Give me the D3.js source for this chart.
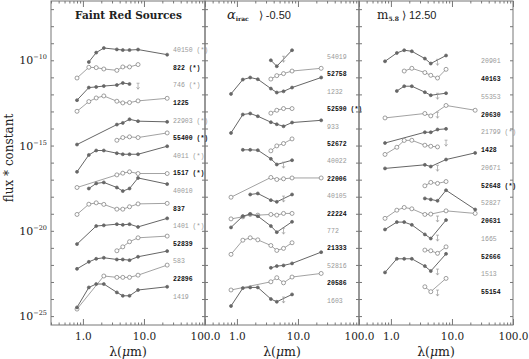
<!DOCTYPE html>
<html>
<head>
<meta charset="utf-8">
<style>
    body { margin: 0; background: #fff; }
    svg { display: block; font-family: 'DejaVu Serif', serif; }
    .tick line { stroke: #777; }
    .domain { display: none; }
    .xlab .tick text { font-size: 10.5px; fill: #222; font-family: 'DejaVu Serif', serif; }
    .lab { font-family: 'Liberation Mono', monospace; font-size: 6.5px; }
</style>
</head>
<body>
<svg width="529" height="359"></svg>
<script src="https://d3js.org/d3.v7.min.js"></script>
<script>
// bands: I, J, H, K, IRAC 3.6/4.5/5.8/8.0, MIPS 24 (micron)
const bands = [0.8, 1.25, 1.65, 2.2, 3.6, 4.5, 5.8, 8.0, 24];

// log10(flux * constant), null = no detection; lim = [band, log10 upper limit]
const faintRed = [
    { id: "40150 (*)", open: false, f: [null, -10.10, -9.55, -9.28, -9.36, -9.40, -9.40, -9.37, -9.67] },
    { id: "822 (*)", open: true, f: [-11.04, -10.41, -10.43, -10.51, -10.59, -10.39, -10.39, -10.25, null] },
    { id: "746 (*)", open: false, f: [-12.34, -11.60, -11.56, -11.51, -11.45, -11.33, -11.39, null, null], lim: [8.0, -11.52] },
    { id: "1225", open: true, f: [-12.99, -12.42, -12.21, -12.09, -12.40, -12.50, -12.48, -12.38, -12.23] },
    { id: "22903 (*)", open: false, f: [-14.94, null, null, null, -13.77, -13.67, -13.46, -13.57, -13.61] },
    { id: "55400 (*)", open: true, f: [null, null, null, null, -14.69, -14.53, -14.49, -14.53, -14.26] },
    { id: "4011 (*)", open: false, f: [-16.54, -15.55, -15.29, -15.29, -15.45, -15.51, -15.51, -15.51, -15.04] },
    { id: "1517 (*)", open: true, f: [-17.46, null, null, null, -16.72, -16.62, -16.54, -16.64, -16.64] },
    { id: "40010", open: false, f: [null, -17.52, -17.22, -17.16, -17.46, -17.67, -17.52, -16.90, -17.26] },
    { id: "837", open: true, f: [-19.04, -18.44, -18.36, -18.45, -18.73, -18.73, -18.59, -18.42, -18.39] },
    { id: "1401 (*)", open: false, f: [-20.78, null, -19.72, -19.68, -19.61, -19.65, -19.61, -19.77, -19.27] },
    { id: "52839", open: true, f: [null, null, null, null, -21.17, -20.94, -20.64, -20.41, -20.31] },
    { id: "583", open: false, f: [-22.23, -21.82, -21.64, -21.58, -21.68, -21.68, -21.72, -21.52, -21.19] },
    { id: "22896", open: true, f: [-24.59, null, null, -22.65, -22.73, -22.73, -22.73, -22.60, -22.01] },
    { id: "1419", open: false, f: [-24.49, -23.32, -23.12, -23.12, -23.61, -23.81, -23.81, -23.47, -23.28] }
];

const redAlpha = [
    { id: "54019", open: false, f: [null, null, null, null, -10.00, -10.35, null, -9.41, null], lim: [5.8, -9.94] },
    { id: "52758", open: true, f: [null, null, null, null, -11.10, -10.90, -10.78, -10.63, -10.47] },
    { id: "1232", open: false, f: [-11.97, -11.13, -11.01, -11.11, -11.66, -11.89, -11.82, -11.60, -11.01] },
    { id: "52590 (*)", open: true, f: [null, null, null, null, -13.10, -12.93, -12.83, -12.83, null] },
    { id: "933", open: false, f: [-14.26, -13.18, -13.12, -13.28, -13.63, -13.75, -13.87, -13.65, -13.52] },
    { id: "52672", open: true, f: [null, null, null, null, -15.31, -15.02, -14.88, -14.61, null] },
    { id: "40022", open: false, f: [null, -15.25, -15.25, -15.27, -15.78, -16.11, null, -15.86, null], lim: [5.8, -16.15] },
    { id: "22006", open: true, f: [-18.03, null, null, null, -16.87, -16.99, -16.95, -16.90, -16.90] },
    { id: "40105", open: false, f: [null, null, -17.87, -17.81, -18.20, -18.30, null, -17.87, null], lim: [5.8, -18.14] },
    { id: "22224", open: true, f: [-19.30, -19.18, -19.04, -19.08, -19.04, -19.08, -18.98, -18.98, null] },
    { id: "772", open: false, f: [-19.80, -19.14, -19.02, -19.14, -19.72, -20.08, null, -19.47, null], lim: [5.8, -20.02] },
    { id: "21333", open: true, f: [-21.38, -20.55, -20.41, -20.53, -20.86, -21.15, -21.03, -20.70, null] },
    { id: "52816", open: false, f: [null, null, null, null, -22.17, -22.07, -22.03, -21.91, -21.25] },
    { id: "20586", open: true, f: [-23.47, null, null, null, -22.99, -22.75, -23.05, -22.71, -22.50] },
    { id: "1603", open: false, f: [-24.41, -23.36, -23.32, -23.32, -24.00, -24.16, null, -23.73, null], lim: [5.8, -24.06] }
];

const faint58 = [
    { id: "20901", open: false, f: [-10.06, -9.57, -9.41, -9.47, -9.90, -10.19, null, -9.72, null], lim: [5.8, -10.12] },
    { id: "40163", open: true, f: [null, null, -10.63, -10.47, -10.72, -10.88, -11.04, -10.53, null] },
    { id: "55353", open: false, f: [null, -11.80, -11.52, -11.52, -11.87, -12.05, null, -11.93, null], lim: [5.8, -12.11] },
    { id: "20630", open: true, f: [-13.38, null, null, null, -13.12, -13.26, null, -12.65, -12.93], lim: [5.8, -13.22] },
    { id: "21799 (*)", open: false, f: [-14.85, null, null, null, -14.22, -14.22, -14.06, -14.02, null] },
    { id: "1428", open: true, f: [-15.52, -15.10, -14.70, -14.69, -14.98, -15.04, -15.08, null, null], lim: [8.0, -14.86] },
    { id: "20671", open: false, f: [-16.34, null, null, null, -16.13, -16.23, null, -15.82, -15.43], lim: [5.8, -16.33] },
    { id: "52648 (*)", open: true, f: [null, null, null, null, -17.36, -17.16, -17.22, -17.11, null] },
    { id: "52827", open: false, f: [null, null, null, null, -18.10, -18.16, -18.24, -17.62, -18.75] },
    { id: "20631", open: true, f: [-19.27, -18.79, -18.63, -18.71, -19.04, -19.02, null, -18.83, -18.98], lim: [5.8, -19.31] },
    { id: "1665", open: false, f: [-19.92, -19.49, -19.49, -19.65, -20.21, -20.45, null, -19.37, null], lim: [5.8, -20.43] },
    { id: "52666", open: true, f: [null, null, null, null, -21.13, -21.17, -21.32, -20.94, null] },
    { id: "1513", open: false, f: [-22.44, -21.64, -21.64, -21.64, -22.07, -22.36, null, -21.35, null], lim: [5.8, -22.42] },
    { id: "55154", open: true, f: [null, null, null, null, -23.28, -23.57, null, -22.79, null], lim: [5.8, -23.65] }
];

const yLabelExps = [-10, -15, -20, -25];
const xLabelTicks = [1, 10, 100];

let svg = d3.select("svg");

let panelW = 154;
let yTop = 1, yBottom = 325;

let panels = [
    { x0: 51, data: faintRed, labTop: 50, labStep: 17.6 },
    { x0: 205, data: redAlpha, labTop: 56.7, labStep: 17.4 },
    { x0: 359, data: faint58, labTop: 61, labStep: 17.75 }
];

let y = d3.scaleLog()
    .domain([3e-26, 3e-7])
    .range([yBottom, yTop]);

// decade ticks for y and 2-9 minor ticks for x
let decades = d3.range(-25, -6).map(e => Math.pow(10, e));
let minorX = [];
[0.1, 1, 10].forEach(d => d3.range(2, 10).forEach(k => {
    let v = d * k;
    if (v >= 0.3 && v < 100) minorX.push(v);
}));

panels.forEach(function (p) {
    let x = d3.scaleLog()
        .domain([0.3, 100])
        .range([p.x0, p.x0 + panelW]);

    let g = svg.append("g");

    // axes ticks
    g.append("g").attr("transform", `translate(${p.x0},0)`)
        .call(d3.axisLeft(y).tickValues(decades).tickSize(-3).tickFormat(""));
    g.append("g").attr("transform", `translate(${p.x0 + panelW},0)`)
        .call(d3.axisRight(y).tickValues(decades).tickSize(-3).tickFormat(""));
    g.append("g").attr("transform", `translate(0,${yBottom})`)
        .call(d3.axisBottom(x).tickValues(minorX).tickSize(-2.5).tickFormat(""));
    g.append("g").attr("class", "xlab").attr("transform", `translate(0,${yBottom})`)
        .call(d3.axisBottom(x).tickValues(xLabelTicks).tickSize(-6).tickPadding(8).tickFormat(d3.format(".1f")));
    g.append("g").attr("transform", `translate(0,${yTop})`)
        .call(d3.axisTop(x).tickValues(minorX).tickSize(-2.5).tickFormat(""));
    g.append("g").attr("transform", `translate(0,${yTop})`)
        .call(d3.axisTop(x).tickValues(xLabelTicks).tickSize(-6).tickFormat(""));

    g.append("rect")
        .attr("x", p.x0).attr("y", yTop)
        .attr("width", panelW).attr("height", yBottom - yTop)
        .style("fill", "none").style("stroke", "#777").style("stroke-width", 1);

    // x label
    let xl = g.append("text")
        .attr("x", p.x0 + panelW / 2).attr("y", 356)
        .attr("text-anchor", "middle")
        .style("font-size", "12.5px").style("fill", "#222");
    xl.append("tspan").text("λ(");
    xl.append("tspan").style("font-style", "italic").text("μ");
    xl.append("tspan").text("m)");

    let line = d3.line()
        .x(d => x(d[0]))
        .y(d => y(Math.pow(10, d[1])));

    p.data.forEach(function (s, i) {
        let pts = bands.map((b, k) => [b, s.f[k]]).filter(d => d[1] != null);
        let col = s.open ? "#8a8a8a" : "#666";

        g.append("path")
            .attr("d", line(pts))
            .style("fill", "none")
            .style("stroke", col)
            .style("stroke-width", s.open ? 0.8 : 1);

        g.selectAll(null).data(pts).enter().append("circle")
            .attr("cx", d => x(d[0]))
            .attr("cy", d => y(Math.pow(10, d[1])))
            .attr("r", s.open ? 2 : 1.5)
            .style("fill", s.open ? "#fff" : "#666")
            .style("stroke", s.open ? "#777" : "#666")
            .style("stroke-width", 0.7);

        if (s.lim) {
            let lx = x(s.lim[0]), ly = y(Math.pow(10, s.lim[1]));
            g.append("path")
                .attr("d", `M${lx - 1.5},${ly - 3}H${lx + 1.5}M${lx},${ly - 3}V${ly + 3}M${lx - 1.5},${ly + 1}L${lx},${ly + 3}L${lx + 1.5},${ly + 1}`)
                .style("fill", "none").style("stroke", "#999").style("stroke-width", 0.7);
        }

        g.append("text")
            .attr("class", "lab")
            .attr("x", x(30))
            .attr("y", p.labTop + i * p.labStep)
            .attr("dy", "0.35em")
            .style("fill", s.open ? "#111" : "#999")
            .style("font-weight", s.open ? "bold" : "normal")
            .text(s.id);
    });
});

// y tick labels (first panel only)
yLabelExps.forEach(function (e) {
    let t = svg.append("text")
        .attr("x", 47).attr("y", y(Math.pow(10, e)) + 4)
        .attr("text-anchor", "end")
        .style("fill", "#222");
    t.append("tspan").style("font-size", "11px").text("10");
    t.append("tspan").style("font-size", "6.5px").attr("dy", -5).text("−" + (-e));
});

svg.append("text")
    .attr("transform", "translate(13,158) rotate(-90)")
    .attr("text-anchor", "middle")
    .style("font-size", "12px").style("fill", "#222")
    .text("flux * constant");

// panel titles
svg.append("text")
    .attr("x", 75).attr("y", 19)
    .style("font-size", "10.5px").style("font-weight", "bold").style("fill", "#222")
    .text("Faint Red Sources");

let t2 = svg.append("text").attr("x", 227).attr("y", 19).style("fill", "#222");
t2.append("tspan").style("font-size", "13px").style("font-style", "italic").text("α");
t2.append("tspan").style("font-size", "6px").style("font-weight", "bold").attr("dy", 2).text("irac");
t2.append("tspan").style("font-size", "11px").attr("dy", -2).attr("dx", 10)
    .style("font-family", "'Liberation Sans', sans-serif").text("⟩ -0.50");

let t3 = svg.append("text").attr("x", 377).attr("y", 19).style("fill", "#222");
t3.append("tspan").style("font-size", "12px").text("m");
t3.append("tspan").style("font-size", "6px").style("font-weight", "bold").attr("dy", 2).text("5.8");
t3.append("tspan").style("font-size", "11px").attr("dy", -2).attr("dx", 3)
    .style("font-family", "'Liberation Sans', sans-serif").text("⟩ 12.50");
</script>
</body>
</html>
